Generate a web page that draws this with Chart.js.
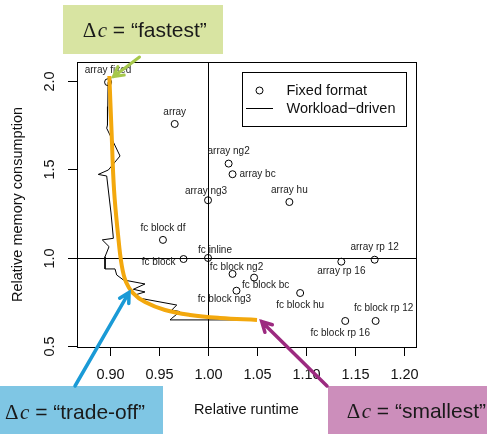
<!DOCTYPE html>
<html>
<head>
<meta charset="utf-8">
<script src="https://cdn.jsdelivr.net/npm/chart.js@4.4.1/dist/chart.umd.min.js"></script>
<style>
body { margin: 0; background: #fff; }
</style>
</head>
<body>
<canvas id="memChart" width="487" height="434"></canvas>
<script>
// fixed formats (circles)
const formatNames = ["array fixed", "array", "array ng2", "array bc", "array ng3", "array hu",
    "fc block df", "fc block", "fc inline", "fc block ng2", "fc block bc", "fc block ng3",
    "fc block hu", "array rp 16", "array rp 12", "fc block rp 12", "fc block rp 16"];
const runtime = [0.898, 0.966, 1.021, 1.025, 1.000, 1.083,
    0.954, 0.975, 1.000, 1.025, 1.047, 1.029,
    1.094, 1.136, 1.170, 1.171, 1.140];
const memory = [1.993, 1.757, 1.533, 1.473, 1.326, 1.316,
    1.102, 0.994, 1.000, 0.910, 0.889, 0.815,
    0.802, 0.979, 0.990, 0.644, 0.644];

// workload-driven path
const workloadRuntime = [0.898, 0.8977, 0.8974, 0.8966, 0.9102, 0.8983, 0.888, 0.8966, 0.901, 0.9034,
    0.8921, 0.899, 0.8949, 0.8949, 0.9051, 0.9068, 0.9136, 0.9357, 0.9238, 0.9357,
    0.9255, 0.9289, 0.9681, 0.963, 0.9714, 0.963, 0.9612, 1.0497];
const workloadMemory = [1.993, 1.855, 1.751, 1.733, 1.576, 1.497, 1.472, 1.463, 1.254, 1.111,
    1.102, 1.064, 1.007, 0.938, 0.938, 0.904, 0.876, 0.853, 0.823, 0.808,
    0.791, 0.774, 0.734, 0.706, 0.697, 0.659, 0.650, 0.650];

// orange hand-drawn frontier
const frontRuntime = [0.8993, 0.9015, 0.9041, 0.9082, 0.9119, 0.9163, 0.9235, 0.9357, 0.9561, 0.9816, 1.0122, 1.05];
const frontMemory = [2.028, 1.723, 1.384, 1.130, 0.960, 0.864, 0.802, 0.751, 0.706, 0.678, 0.661, 0.650];

const xTicks = [0.90, 0.95, 1.00, 1.05, 1.10, 1.15, 1.20];
const yTicks = [0.5, 1.0, 1.5, 2.0];

// label placement: dx, dy (px from point), align
const labelPlace = [[0, -12, "center"], [0, -12, "center"], [0, -12, "center"], [7, 0, "left"],
    [-2, -9, "center"], [0, -12, "center"], [0, -12, "center"], [-8, 3, "right"], [7, -8, "center"],
    [4, -7, "center"], [-12, 8, "left"], [-12, 9, "center"], [0, 12, "center"], [0, 9.5, "center"],
    [0, -12, "center"], [8, -12.5, "center"], [-5, 12.5, "center"]];

const SANS = '"Liberation Sans", Arial, sans-serif';
const SERIF = '"Liberation Serif", "DejaVu Serif", serif';

function pts(xs, ys) {
    return xs.map((x, i) => ({ x: x, y: ys[i] }));
}

function drawArrow(ctx, x0, y0, x1, y1, color, width) {
    const ang = Math.atan2(y1 - y0, x1 - x0);
    const head = 11;
    ctx.save();
    ctx.strokeStyle = color;
    ctx.lineWidth = width;
    ctx.lineCap = "round";
    ctx.beginPath();
    ctx.moveTo(x0, y0);
    ctx.lineTo(x1, y1);
    ctx.moveTo(x1 - head * Math.cos(ang - 0.5), y1 - head * Math.sin(ang - 0.5));
    ctx.lineTo(x1, y1);
    ctx.lineTo(x1 - head * Math.cos(ang + 0.5), y1 - head * Math.sin(ang + 0.5));
    ctx.stroke();
    ctx.restore();
}

function drawDelta(ctx, x, y, word) {
    ctx.save();
    ctx.fillStyle = "#1a1a1a";
    ctx.textAlign = "left";
    ctx.textBaseline = "alphabetic";
    ctx.font = "21px " + SERIF;
    ctx.fillText("\u0394", x, y);
    let w = ctx.measureText("\u0394").width + 1.5;
    ctx.font = "italic 21px " + SERIF;
    ctx.fillText("c", x + w, y);
    w += ctx.measureText("c").width;
    ctx.font = "21px " + SANS;
    ctx.fillText(" = \u201C" + word + "\u201D", x + w, y);
    ctx.restore();
}

const rPlot = {
    id: "rPlot",
    beforeDatasetsDraw(chart) {
        const ctx = chart.ctx;
        const a = chart.chartArea;
        const sx = chart.scales.x, sy = chart.scales.y;
        ctx.save();
        ctx.strokeStyle = "#000";
        ctx.lineWidth = 1;
        ctx.strokeRect(Math.round(a.left) + 0.5, Math.round(a.top) + 0.5,
            Math.round(a.right - a.left), Math.round(a.bottom - a.top));
        // reference lines at 1.0
        const vx = Math.round(sx.getPixelForValue(1.0)) + 0.5;
        const hy = Math.round(sy.getPixelForValue(1.0)) + 0.5;
        ctx.beginPath();
        ctx.moveTo(vx, a.top);
        ctx.lineTo(vx, a.bottom);
        ctx.moveTo(a.left, hy);
        ctx.lineTo(a.right, hy);
        ctx.stroke();

        // point labels
        ctx.fillStyle = "#222";
        ctx.font = "10px " + SANS;
        ctx.textBaseline = "middle";
        formatNames.forEach((name, i) => {
            const p = labelPlace[i];
            ctx.textAlign = p[2];
            ctx.fillText(name, sx.getPixelForValue(runtime[i]) + p[0], sy.getPixelForValue(memory[i]) + p[1]);
        });
        ctx.restore();
    },
    afterDraw(chart) {
        const ctx = chart.ctx;
        const a = chart.chartArea;
        const sx = chart.scales.x, sy = chart.scales.y;
        ctx.save();
        ctx.strokeStyle = "#000";
        ctx.fillStyle = "#111";
        ctx.lineWidth = 1;
        ctx.font = "14.5px " + SANS;

        // x axis
        ctx.textAlign = "center";
        ctx.textBaseline = "middle";
        xTicks.forEach(v => {
            const px = Math.round(sx.getPixelForValue(v)) + 0.5;
            ctx.beginPath();
            ctx.moveTo(px, a.bottom);
            ctx.lineTo(px, a.bottom + 9);
            ctx.stroke();
            ctx.fillText(v.toFixed(2), px, a.bottom + 28);
        });
        ctx.fillText("Relative runtime", (a.left + a.right) / 2, 410);

        // y axis
        yTicks.forEach(v => {
            const py = Math.round(sy.getPixelForValue(v)) + 0.5;
            ctx.beginPath();
            ctx.moveTo(a.left, py);
            ctx.lineTo(a.left - 9, py);
            ctx.stroke();
            ctx.save();
            ctx.translate(50, py);
            ctx.rotate(-Math.PI / 2);
            ctx.fillText(v.toFixed(1), 0, 0);
            ctx.restore();
        });
        ctx.save();
        ctx.translate(18, (a.top + a.bottom) / 2);
        ctx.rotate(-Math.PI / 2);
        ctx.fillText("Relative memory consumption", 0, 0);
        ctx.restore();

        // legend
        const ds = chart.data.datasets;
        ctx.strokeRect(242.5, 72.5, 164, 54);
        ctx.beginPath();
        ctx.arc(259.5, 90.5, 3.5, 0, Math.PI * 2);
        ctx.stroke();
        ctx.beginPath();
        ctx.moveTo(246, 108.5);
        ctx.lineTo(273, 108.5);
        ctx.stroke();
        ctx.textAlign = "left";
        ctx.fillText(ds[0].label, 286.5, 91);
        ctx.fillText(ds[1].label, 286.5, 109);

        // callout boxes
        ctx.fillStyle = "#d8e4a2";
        ctx.fillRect(63, 5, 160, 49);
        ctx.fillStyle = "#7fc6e4";
        ctx.fillRect(0, 386, 163, 48);
        ctx.fillStyle = "#cc8ebb";
        ctx.fillRect(328, 386, 159, 48);
        drawDelta(ctx, 82.7, 37, "fastest");
        drawDelta(ctx, 5, 418.5, "trade-off");
        drawDelta(ctx, 346.7, 417.5, "smallest");

        // callout arrows, tips at data positions
        drawArrow(ctx, 139.5, 57, sx.getPixelForValue(0.9034), sy.getPixelForValue(2.024), "#a6c84c", 3);
        drawArrow(ctx, 75, 386, sx.getPixelForValue(0.9194), sy.getPixelForValue(0.805), "#1a9ad6", 3.5);
        drawArrow(ctx, 327, 386, sx.getPixelForValue(1.0548), sy.getPixelForValue(0.640), "#9c2a80", 3.5);
        ctx.restore();
    }
};

new Chart(document.getElementById("memChart"), {
    type: "scatter",
    data: {
        datasets: [{
            label: "Fixed format",
            data: pts(runtime, memory),
            pointStyle: "circle",
            pointRadius: 3.5,
            pointBorderWidth: 1,
            pointBorderColor: "#000",
            pointBackgroundColor: "rgba(0,0,0,0)",
            order: 1
        }, {
            type: "line",
            label: "Workload\u2212driven",
            data: pts(workloadRuntime, workloadMemory),
            borderColor: "#000",
            borderWidth: 1,
            pointRadius: 0,
            tension: 0,
            fill: false,
            order: 2
        }, {
            type: "line",
            label: "frontier",
            data: pts(frontRuntime, frontMemory),
            borderColor: "#f3a80d",
            borderWidth: 4,
            pointRadius: 0,
            tension: 0.4,
            fill: false,
            order: 0
        }]
    },
    options: {
        responsive: false,
        animation: false,
        devicePixelRatio: 1,
        events: [],
        layout: { padding: { left: 77, right: 71, top: 62, bottom: 87 } },
        plugins: { legend: { display: false }, tooltip: { enabled: false } },
        scales: {
            x: { type: "linear", min: 0.8663, max: 1.2122, display: false },
            y: { type: "linear", min: 0.497, max: 2.107, display: false }
        }
    },
    plugins: [rPlot]
});
</script>
</body>
</html>
